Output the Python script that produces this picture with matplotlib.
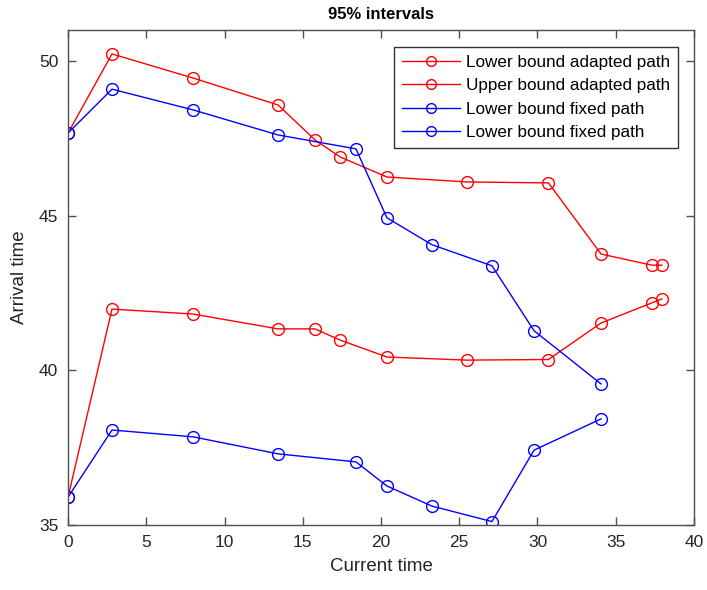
import numpy as np
import matplotlib
matplotlib.use('Agg')
import matplotlib.pyplot as plt

plt.rcParams['font.family'] = ['Liberation Sans', 'DejaVu Sans']

# adapted path
t_adapted = [0, 2.81, 7.99, 13.42, 15.78, 17.38, 20.38, 25.5, 30.7, 34.06, 37.3, 37.95]
upper_adapted = [47.67, 50.23, 49.45, 48.58, 47.45, 46.90, 46.25, 46.09, 46.06, 43.76, 43.40, 43.40]
lower_adapted = [35.90, 41.98, 41.82, 41.34, 41.34, 40.98, 40.43, 40.33, 40.35, 41.53, 42.18, 42.31]

# fixed path
t_fixed = [0, 2.81, 7.99, 13.42, 18.4, 20.38, 23.26, 27.09, 29.78, 34.06]
upper_fixed = [47.67, 49.09, 48.42, 47.61, 47.16, 44.93, 44.06, 43.38, 41.28, 39.56]
lower_fixed = [35.90, 38.07, 37.85, 37.30, 37.04, 36.26, 35.61, 35.11, 37.42, 38.43]

labels = ['Lower bound adapted path', 'Upper bound adapted path',
          'Lower bound fixed path', 'Lower bound fixed path']

fig = plt.figure(figsize=(7.07, 5.90), dpi=100)
ax = fig.add_axes([0.0962, 0.1102, 0.8854, 0.8388])

style = dict(marker='o', markersize=8.5, markerfacecolor='none', linewidth=1.0, markeredgewidth=1.0)
ax.plot(t_adapted, upper_adapted, color='#ff0000', label=labels[0], **style)
ax.plot(t_adapted, lower_adapted, color='#ff0000', label=labels[1], **style)
ax.plot(t_fixed, upper_fixed, color='#0000ff', label=labels[2], **style)
ax.plot(t_fixed, lower_fixed, color='#0000ff', label=labels[3], **style)

ax.set_xlim(0, 40)
ax.set_ylim(35, 51)
ax.set_xticks(np.arange(0, 41, 5))
ax.set_yticks([35, 40, 45, 50])

grey = '#505050'
for s in ax.spines.values():
    s.set_color(grey)
    s.set_linewidth(1.0)
ax.tick_params(direction='in', top=True, right=True, colors=grey, labelsize=12.5,
               length=6, width=1.0, labelcolor='#262626', pad=7)

ax.set_title('95% intervals', fontsize=12, fontweight='bold', pad=8)
ax.set_xlabel('Current time', fontsize=13.5, color='#262626', labelpad=6)
ax.set_ylabel('Arrival time', fontsize=13.5, color='#262626', labelpad=8)

leg = ax.legend(loc='upper right', fontsize=12.3, frameon=True, fancybox=False,
                edgecolor='#333333', framealpha=1, handlelength=3.4, handletextpad=0.35,
                borderpad=0.45, labelspacing=0.5, borderaxespad=0,
                bbox_to_anchor=(0.9745, 0.966))
leg.get_frame().set_linewidth(1.0)
for h in leg.legend_handles:
    h.set_markersize(7)

plt.savefig('out.png', dpi=100)
